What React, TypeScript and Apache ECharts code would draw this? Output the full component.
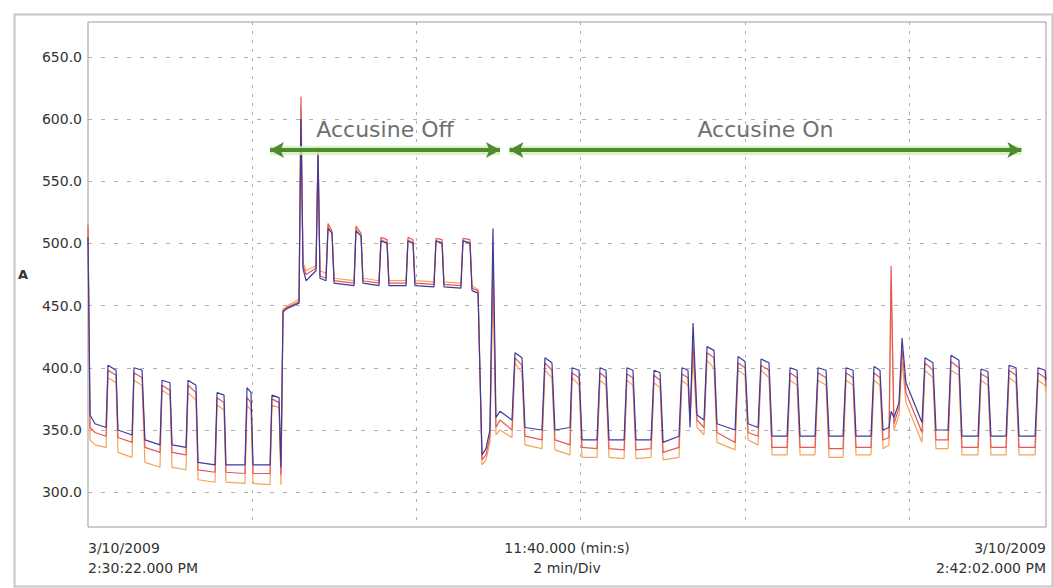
import React, { useEffect, useRef } from "react";
import * as echarts from "echarts";

// elapsed time in seconds from 3/10/2009 2:30:22.000 PM
const times = [
  0, 1.5, 5.1, 13.2, 14.6, 20.5, 21.9, 32.2, 33.6, 39.5, 41.6, 52.6, 54.1, 59.9, 61.4, 71.6, 73.1, 78.9, 80.4, 92.8,
  94.3, 99.4, 100.8, 114.7, 116.2, 119.1, 120.6, 133.0, 134.4, 139.6, 141.0, 142.5, 146.1, 154.2, 155.6, 157.1, 159.3, 166.6, 168.1, 169.5,
  173.9, 175.4, 178.3, 179.8, 194.4, 195.8, 199.5, 200.9, 212.6, 214.1, 218.5, 219.9, 232.4, 233.8, 237.5, 238.9, 252.8, 254.3, 258.7, 260.1,
  272.5, 274.0, 279.1, 280.6, 285.0, 287.9, 290.8, 293.7, 295.9, 298.1, 301.0, 309.8, 312.0, 317.1, 319.3, 331.7, 333.9, 339.0, 341.2, 352.2,
  353.7, 358.8, 361.0, 371.9, 374.1, 378.5, 380.7, 391.7, 393.8, 398.2, 400.4, 411.4, 413.6, 418.0, 420.2, 431.8, 434.0, 438.4, 439.9, 442.1,
  445.0, 450.1, 452.3, 457.4, 459.6, 472.8, 475.0, 480.1, 482.3, 489.6, 491.8, 497.6, 499.8, 510.8, 513.0, 518.1, 520.3, 531.2, 533.4, 539.3,
  541.5, 551.7, 553.9, 559.0, 561.2, 572.1, 574.3, 578.7, 580.9, 585.3, 586.8, 588.9, 592.6, 594.8, 597.7, 609.4, 611.6, 617.4, 619.6, 628.4,
  630.6, 636.4, 638.6, 650.3, 652.5, 657.6, 659.8, 670.8, 673.0, 678.1, 680.3, 692.0, 694.2, 699.3, 700
];

const blueAmps = [
  505, 362, 355, 352, 402, 398, 350, 346, 400, 398, 342, 338, 390, 388, 338, 336, 390, 386, 324, 322,
  380, 378, 322, 322, 384, 380, 322, 322, 378, 376, 320, 445, 448, 452, 600, 480, 470, 478, 572, 472,
  470, 512, 508, 468, 466, 510, 506, 468, 466, 502, 500, 466, 466, 502, 500, 466, 465, 502, 500, 465,
  464, 502, 500, 462, 460, 330, 335, 350, 512, 360, 365, 358, 412, 408, 352, 350, 408, 404, 350, 352,
  400, 398, 342, 342, 400, 398, 342, 342, 400, 398, 342, 342, 398, 396, 340, 345, 400, 398, 352, 436,
  362, 358, 417, 414, 355, 350, 409, 405, 355, 352, 407, 404, 345, 345, 400, 398, 345, 345, 400, 398,
  345, 345, 400, 398, 345, 345, 401, 398, 350, 352, 365, 360, 372, 424, 388, 356, 408, 404, 350, 350,
  410, 406, 345, 345, 399, 397, 345, 345, 402, 400, 345, 345, 400, 398, 390
];

const redAmps = [
  515, 352, 348, 345, 398, 394, 344, 340, 396, 392, 336, 332, 386, 382, 332, 330, 386, 380, 318, 316,
  376, 372, 316, 315, 376, 372, 315, 315, 375, 372, 314, 446, 449, 453, 618, 482, 475, 480, 578, 474,
  472, 516, 510, 470, 468, 514, 508, 470, 468, 505, 503, 468, 468, 505, 503, 468, 467, 504, 503, 467,
  466, 504, 503, 464, 462, 326, 330, 345, 490, 352, 358, 350, 408, 402, 345, 342, 404, 398, 342, 338,
  396, 392, 336, 335, 396, 392, 335, 334, 395, 392, 334, 335, 394, 390, 332, 336, 395, 392, 360, 420,
  358, 352, 412, 408, 348, 340, 404, 400, 348, 345, 402, 398, 336, 336, 396, 392, 336, 336, 396, 392,
  335, 335, 396, 392, 336, 336, 396, 392, 342, 344, 482, 355, 368, 415, 380, 348, 404, 398, 342, 342,
  405, 400, 336, 336, 395, 392, 336, 336, 398, 394, 336, 336, 396, 392, 385
];

const orangeAmps = [
  510, 342, 338, 336, 392, 388, 332, 328, 390, 386, 324, 320, 382, 378, 320, 318, 380, 374, 310, 308,
  370, 366, 308, 307, 370, 366, 307, 306, 370, 368, 306, 447, 450, 455, 610, 485, 478, 482, 575, 478,
  476, 514, 508, 472, 470, 512, 506, 472, 470, 503, 501, 470, 470, 503, 501, 470, 469, 502, 501, 469,
  468, 502, 501, 466, 463, 322, 326, 340, 470, 346, 350, 344, 404, 396, 338, 335, 398, 392, 334, 330,
  392, 386, 328, 328, 390, 386, 328, 327, 390, 386, 327, 328, 388, 384, 326, 328, 390, 386, 356, 410,
  352, 346, 406, 400, 340, 334, 398, 394, 342, 338, 398, 392, 330, 330, 390, 386, 330, 330, 390, 386,
  328, 328, 390, 386, 330, 330, 390, 386, 335, 338, 470, 350, 362, 405, 372, 340, 398, 392, 335, 335,
  398, 394, 330, 330, 390, 386, 330, 330, 392, 388, 330, 330, 390, 386, 380
];

const yTickValues = [300, 350, 400, 450, 500, 550, 600, 650];
const xGridValues = [120, 240, 360, 480, 600];
const xLabelValues = [0, 350, 700];
const xLabelTexts = [
  "3/10/2009\n2:30:22.000 PM",
  "11:40.000 (min:s)\n2 min/Div",
  "3/10/2009\n2:42:02.000 PM",
];
const annotationNames = ["Accusine Off", "Accusine On"];
const annotationStarts = [133, 308];
const annotationEnds = [301, 682];
const annotationLevel = 575;

export default function App() {
  const ref = useRef<HTMLDivElement>(null);

  useEffect(() => {
    if (!ref.current) return;
    const chart = echarts.init(ref.current, undefined, { renderer: "svg" });

    const mk = (vals: number[]) => times.map((t, i) => [t, vals[i]]);

    const arrowData = (withName: boolean) =>
      annotationNames.map((name, i) => [
        withName ? { name, coord: [annotationStarts[i], annotationLevel] } : { coord: [annotationStarts[i], annotationLevel] },
        { coord: [annotationEnds[i], annotationLevel] },
      ]);

    const lineSeries = (name: string, color: string, vals: number[], extra: any = {}) => ({
      name,
      type: "line",
      data: mk(vals),
      showSymbol: false,
      symbol: "none",
      lineStyle: { color, width: 1.2 },
      silent: true,
      ...extra,
    });

    chart.setOption({
      animation: false,
      backgroundColor: "#ffffff",
      textStyle: { fontFamily: "DejaVu Sans" },
      graphic: [
        {
          type: "rect",
          left: 12,
          top: 12,
          shape: { width: 1038, height: 572 },
          style: { fill: "none", stroke: "#c6c6c6", lineWidth: 2 },
          z: -1,
        },
      ],
      grid: {
        left: 88,
        top: 22,
        right: 7,
        bottom: 61,
        show: true,
        borderColor: "#9a9a9a",
        borderWidth: 1,
      },
      xAxis: {
        type: "value",
        min: 0,
        max: 700,
        axisLine: { show: false },
        axisTick: { show: false, customValues: xGridValues },
        splitLine: {
          show: true,
          lineStyle: { color: "#b0b0b0", type: [3, 6], width: 1 },
        },
        axisLabel: {
          customValues: xLabelValues,
          formatter: (v: number) => xLabelTexts[xLabelValues.indexOf(v)] ?? "",
          alignMinLabel: "left",
          alignMaxLabel: "right",
          color: "#333333",
          fontSize: 14,
          lineHeight: 20,
          margin: 11,
          fontFamily: "DejaVu Sans",
        },
      },
      yAxis: {
        type: "value",
        min: 272,
        max: 678,
        name: "A",
        nameLocation: "middle",
        nameRotate: 0,
        nameGap: 60,
        nameTextStyle: { color: "#333", fontSize: 13, fontWeight: "bold", fontFamily: "DejaVu Sans" },
        axisLine: { show: false },
        axisTick: { show: false, customValues: yTickValues },
        splitLine: {
          show: true,
          lineStyle: { color: "#b0b0b0", type: [4, 9], width: 1 },
        },
        axisLabel: {
          customValues: yTickValues,
          formatter: (v: number) => v.toFixed(1),
          color: "#333333",
          fontSize: 14,
          margin: 6,
          fontFamily: "DejaVu Sans",
        },
      },
      series: [
        lineSeries("Phase C", "#f3a45c", orangeAmps, {
          markLine: {
            silent: true,
            symbol: ["none", "none"],
            lineStyle: { color: "#cdf0b0", width: 9, type: "solid", opacity: 0.8 },
            label: { show: false },
            emphasis: { disabled: true },
            data: arrowData(false),
          },
        }),
        lineSeries("Phase B", "#e4585a", redAmps),
        lineSeries("Phase A", "#3c3c9c", blueAmps, {
          markLine: {
            silent: true,
            symbol: ["arrow", "arrow"],
            symbolSize: [12, 14],
            lineStyle: {
              color: "#4f8a2e",
              width: 4,
              type: "solid",
              opacity: 1,
            },
            label: {
              show: true,
              position: "middle",
              formatter: "{b}",
              color: "#707070",
              fontSize: 22,
              distance: 10,
              fontFamily: "DejaVu Sans",
            },
            emphasis: { disabled: true },
            data: arrowData(true),
          },
        }),
      ],
    });

    return () => chart.dispose();
  }, []);

  return (
    <div
      ref={ref}
      style={{ position: "absolute", left: 0, top: 0, width: 1053, height: 588, background: "#fff" }}
    />
  );
}
